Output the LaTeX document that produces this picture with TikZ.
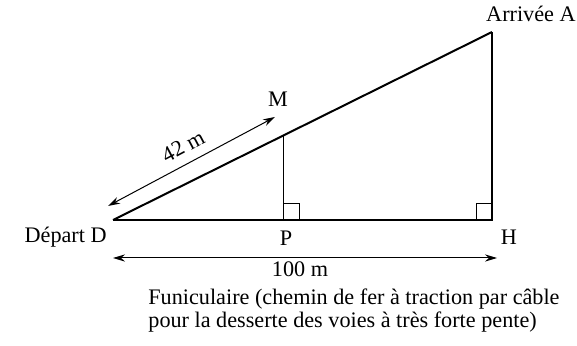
\documentclass[tikz,border=0pt]{standalone}
\usepackage{fontspec}
\setmainfont{Liberation Serif}
\usetikzlibrary{arrows.meta}
\begin{document}
\begin{tikzpicture}[x=0.5pt,y=-0.5pt,
  lbl/.style={inner sep=0pt,font=\fontsize{11.1}{13}\selectfont},
  dim/.style={line width=0.5pt,{Stealth[length=6pt,width=3.6pt]}-{Stealth[length=6pt,width=3.6pt]}},
  thin/.style={line width=0.5pt},
  hyp/.style={line width=1pt}]
\useasboundingbox (0,0) rectangle (577,346);
\coordinate (D) at (113,220);
\coordinate (A) at (492,32);
\coordinate (H) at (492,220);
\coordinate (P) at (283,220);
\coordinate (M) at (283,136);
% triangle
\draw[hyp] (D) -- (A);
\draw[line width=0.6pt] (D) -- (H) -- (A);
\draw[thin] (M) -- (P);
% right angles
\draw[thin] (P) ++(0,-16) -- ++(16,0) -- ++(0,16);
\draw[thin] (H) ++(0,-16) -- ++(-16,0) -- ++(0,16);
% dimension arrows
\coordinate (a1) at (108,206);
\coordinate (a2) at (275,117);
\draw[dim] (a1) -- (a2);
\coordinate (b1) at (113,258);
\coordinate (b2) at (497,258);
\draw[dim] (b1) -- (b2);
% labels
\node[lbl,anchor=base east] (lD) at (107,243) {Départ D};
\node[lbl,anchor=base east] (lA) at (576,22) {Arrivée A};
\node[lbl,anchor=base] (lM) at (278,107) {M};
\node[lbl,anchor=base] (lP) at (286,246) {P};
\node[lbl,anchor=base] (lH) at (509,245) {H};
\node[lbl,rotate=28] (l42) at (183,146) {42 m};
\node[lbl,anchor=base] (l100) at (300,277) {100 m};
\node[lbl,anchor=base west,align=left] (cap1) at (148,305) {Funiculaire (chemin de fer à traction par câble};
\node[lbl,anchor=base west,align=left] (cap2) at (148,328) {pour la desserte des voies à très forte pente)};
\end{tikzpicture}
\end{document}
